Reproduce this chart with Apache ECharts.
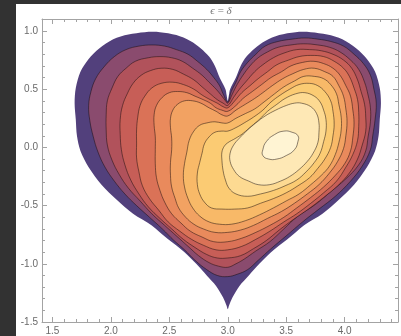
<!DOCTYPE html>
<html><head><meta charset="utf-8">
<script src="https://cdn.jsdelivr.net/npm/echarts@6/dist/echarts.min.js"></script>
<style>
html,body{margin:0;padding:0;background:#323232;width:401px;height:336px;overflow:hidden}
#c{position:absolute;left:16px;top:4px;width:385px;height:332px;background:#fff}
</style></head><body><div id="c"></div>
<script>
// Contour polygons, in data coordinates [x, y]
const heartEdge = [[3.00,0.40],[3.01,0.45],[3.02,0.50],[3.07,0.60],[3.11,0.70],[3.16,0.78],[3.23,0.85],[3.32,0.915],[3.44,0.965],[3.58,0.99],[3.71,0.99],[3.85,0.97],[3.98,0.93],[4.10,0.85],[4.19,0.76],[4.26,0.65],[4.30,0.51],[4.31,0.38],[4.30,0.24],[4.29,0.10],[4.26,-0.03],[4.19,-0.17],[4.08,-0.32],[3.95,-0.45],[3.81,-0.57],[3.65,-0.67],[3.51,-0.79],[3.37,-0.90],[3.27,-1.00],[3.18,-1.10],[3.10,-1.19],[3.04,-1.29],[3.01,-1.36],[3.00,-1.39],[2.99,-1.36],[2.96,-1.29],[2.90,-1.19],[2.82,-1.10],[2.73,-1.00],[2.63,-0.90],[2.49,-0.79],[2.35,-0.67],[2.19,-0.57],[2.05,-0.45],[1.92,-0.32],[1.81,-0.17],[1.74,-0.03],[1.71,0.10],[1.70,0.24],[1.69,0.38],[1.70,0.51],[1.74,0.65],[1.81,0.76],[1.90,0.85],[2.02,0.93],[2.15,0.97],[2.29,0.99],[2.42,0.99],[2.56,0.965],[2.68,0.915],[2.77,0.85],[2.84,0.78],[2.89,0.70],[2.93,0.60],[2.98,0.50],[2.99,0.45]];
const level1 = [[3.00,0.39],[3.03,0.48],[3.07,0.56],[3.11,0.65],[3.17,0.73],[3.24,0.80],[3.32,0.87],[3.43,0.91],[3.55,0.93],[3.66,0.94],[3.77,0.93],[3.88,0.91],[3.99,0.87],[4.08,0.80],[4.16,0.72],[4.22,0.62],[4.25,0.50],[4.27,0.38],[4.26,0.24],[4.24,0.10],[4.22,-0.02],[4.15,-0.16],[4.05,-0.29],[3.92,-0.42],[3.78,-0.53],[3.64,-0.64],[3.50,-0.76],[3.37,-0.87],[3.26,-0.97],[3.17,-1.05],[3.08,-1.09],[3.00,-1.11],[2.91,-1.10],[2.82,-1.05],[2.72,-0.97],[2.63,-0.88],[2.54,-0.80],[2.44,-0.70],[2.33,-0.60],[2.22,-0.50],[2.12,-0.40],[2.03,-0.29],[1.95,-0.17],[1.89,-0.04],[1.85,0.09],[1.82,0.23],[1.81,0.36],[1.83,0.48],[1.87,0.59],[1.94,0.69],[2.03,0.78],[2.13,0.84],[2.24,0.87],[2.35,0.88],[2.46,0.87],[2.56,0.84],[2.66,0.80],[2.74,0.74],[2.82,0.67],[2.88,0.60],[2.93,0.53],[2.96,0.46]];
const level2 = [[3.00,0.38],[3.04,0.46],[3.08,0.54],[3.13,0.62],[3.19,0.70],[3.26,0.77],[3.34,0.82],[3.43,0.86],[3.54,0.88],[3.65,0.89],[3.77,0.88],[3.87,0.86],[3.96,0.82],[4.05,0.75],[4.12,0.67],[4.17,0.56],[4.20,0.45],[4.22,0.34],[4.22,0.22],[4.20,0.09],[4.18,-0.03],[4.12,-0.15],[4.01,-0.27],[3.88,-0.38],[3.75,-0.49],[3.60,-0.59],[3.48,-0.70],[3.36,-0.81],[3.24,-0.89],[3.14,-0.96],[3.07,-1.00],[3.00,-1.03],[2.92,-1.02],[2.84,-0.99],[2.75,-0.93],[2.66,-0.85],[2.56,-0.76],[2.46,-0.67],[2.35,-0.57],[2.25,-0.46],[2.15,-0.35],[2.07,-0.23],[2.01,-0.11],[1.97,0.02],[1.96,0.15],[1.96,0.28],[1.97,0.40],[2.01,0.51],[2.06,0.61],[2.13,0.68],[2.21,0.74],[2.32,0.77],[2.42,0.78],[2.52,0.77],[2.61,0.74],[2.70,0.68],[2.78,0.62],[2.84,0.56],[2.90,0.50],[2.95,0.44],[2.98,0.40]];
const level3 = [[3.00,0.36],[3.05,0.43],[3.10,0.50],[3.16,0.57],[3.23,0.65],[3.30,0.71],[3.39,0.77],[3.48,0.81],[3.59,0.84],[3.70,0.84],[3.80,0.83],[3.90,0.80],[3.99,0.75],[4.06,0.68],[4.11,0.58],[4.14,0.48],[4.17,0.37],[4.18,0.26],[4.18,0.14],[4.15,0.02],[4.11,-0.10],[4.04,-0.22],[3.94,-0.33],[3.82,-0.43],[3.69,-0.53],[3.56,-0.62],[3.44,-0.71],[3.33,-0.80],[3.22,-0.87],[3.11,-0.93],[3.00,-0.95],[2.91,-0.95],[2.82,-0.92],[2.72,-0.86],[2.62,-0.79],[2.52,-0.70],[2.42,-0.61],[2.32,-0.51],[2.24,-0.40],[2.17,-0.28],[2.12,-0.15],[2.09,-0.02],[2.08,0.11],[2.08,0.24],[2.10,0.36],[2.14,0.46],[2.19,0.55],[2.26,0.62],[2.34,0.66],[2.43,0.68],[2.53,0.67],[2.62,0.63],[2.71,0.58],[2.78,0.52],[2.85,0.46],[2.91,0.41],[2.96,0.38]];
const level4 = [[3.00,0.34],[3.06,0.40],[3.12,0.47],[3.19,0.53],[3.26,0.59],[3.34,0.65],[3.42,0.71],[3.52,0.75],[3.61,0.78],[3.71,0.79],[3.82,0.78],[3.91,0.74],[3.99,0.68],[4.04,0.61],[4.08,0.51],[4.11,0.41],[4.12,0.30],[4.12,0.18],[4.11,0.06],[4.07,-0.06],[4.01,-0.17],[3.93,-0.29],[3.82,-0.39],[3.71,-0.48],[3.59,-0.57],[3.48,-0.64],[3.36,-0.72],[3.24,-0.79],[3.12,-0.85],[3.00,-0.88],[2.90,-0.88],[2.79,-0.84],[2.69,-0.79],[2.59,-0.72],[2.49,-0.64],[2.41,-0.54],[2.33,-0.44],[2.27,-0.33],[2.24,-0.21],[2.22,-0.09],[2.22,0.03],[2.22,0.15],[2.23,0.26],[2.25,0.36],[2.29,0.44],[2.35,0.51],[2.43,0.55],[2.53,0.56],[2.62,0.54],[2.71,0.50],[2.78,0.45],[2.85,0.41],[2.91,0.38],[2.96,0.35]];
const level5 = [[3.00,0.31],[3.07,0.36],[3.13,0.42],[3.21,0.48],[3.29,0.54],[3.37,0.60],[3.46,0.65],[3.54,0.70],[3.64,0.73],[3.73,0.74],[3.82,0.72],[3.90,0.68],[3.96,0.62],[4.01,0.53],[4.05,0.44],[4.07,0.32],[4.08,0.21],[4.07,0.09],[4.05,-0.03],[4.00,-0.14],[3.92,-0.24],[3.82,-0.34],[3.71,-0.43],[3.59,-0.52],[3.48,-0.60],[3.36,-0.67],[3.24,-0.73],[3.12,-0.78],[3.00,-0.81],[2.88,-0.81],[2.78,-0.77],[2.68,-0.72],[2.60,-0.65],[2.52,-0.57],[2.46,-0.47],[2.42,-0.37],[2.39,-0.26],[2.38,-0.14],[2.38,-0.02],[2.38,0.09],[2.37,0.19],[2.37,0.28],[2.39,0.36],[2.44,0.43],[2.50,0.47],[2.57,0.48],[2.65,0.47],[2.72,0.44],[2.79,0.41],[2.85,0.38],[2.90,0.34],[2.95,0.32]];
const level6 = [[3.00,0.27],[3.07,0.32],[3.15,0.37],[3.23,0.42],[3.30,0.47],[3.38,0.53],[3.47,0.59],[3.55,0.63],[3.65,0.67],[3.74,0.68],[3.83,0.65],[3.90,0.61],[3.95,0.53],[3.99,0.44],[4.01,0.33],[4.02,0.22],[4.01,0.10],[3.99,-0.01],[3.94,-0.12],[3.87,-0.22],[3.78,-0.32],[3.68,-0.40],[3.57,-0.48],[3.46,-0.55],[3.34,-0.61],[3.22,-0.67],[3.11,-0.71],[3.00,-0.73],[2.89,-0.73],[2.79,-0.70],[2.71,-0.66],[2.64,-0.60],[2.58,-0.52],[2.55,-0.44],[2.52,-0.34],[2.51,-0.24],[2.51,-0.13],[2.52,-0.02],[2.52,0.08],[2.51,0.17],[2.51,0.25],[2.53,0.32],[2.57,0.37],[2.63,0.40],[2.70,0.40],[2.77,0.38],[2.84,0.34],[2.90,0.31],[2.95,0.28]];
const level7 = [[3.00,0.21],[3.07,0.25],[3.15,0.29],[3.23,0.33],[3.31,0.39],[3.40,0.46],[3.48,0.52],[3.57,0.57],[3.65,0.61],[3.74,0.61],[3.82,0.59],[3.88,0.54],[3.93,0.46],[3.95,0.37],[3.97,0.26],[3.97,0.15],[3.95,0.04],[3.92,-0.06],[3.87,-0.16],[3.80,-0.24],[3.71,-0.32],[3.61,-0.40],[3.50,-0.46],[3.39,-0.52],[3.27,-0.58],[3.15,-0.63],[3.03,-0.66],[2.93,-0.66],[2.84,-0.64],[2.76,-0.59],[2.70,-0.52],[2.66,-0.44],[2.63,-0.34],[2.62,-0.24],[2.63,-0.14],[2.65,-0.04],[2.67,0.06],[2.71,0.14],[2.76,0.19],[2.82,0.21],[2.89,0.22],[2.95,0.21]];
const level8 = [[3.00,0.14],[3.07,0.17],[3.14,0.21],[3.22,0.26],[3.30,0.32],[3.37,0.39],[3.45,0.45],[3.53,0.50],[3.61,0.54],[3.70,0.55],[3.77,0.53],[3.83,0.48],[3.88,0.40],[3.90,0.31],[3.91,0.20],[3.90,0.10],[3.88,0.00],[3.83,-0.10],[3.77,-0.18],[3.70,-0.26],[3.60,-0.33],[3.50,-0.39],[3.39,-0.44],[3.28,-0.48],[3.17,-0.52],[3.06,-0.53],[2.95,-0.53],[2.86,-0.52],[2.80,-0.47],[2.76,-0.40],[2.74,-0.32],[2.74,-0.22],[2.76,-0.13],[2.78,-0.05],[2.80,0.03],[2.84,0.09],[2.89,0.13],[2.95,0.14]];
const level9 = [[3.00,0.04],[3.07,0.08],[3.13,0.12],[3.20,0.18],[3.27,0.24],[3.34,0.31],[3.42,0.37],[3.49,0.42],[3.58,0.46],[3.66,0.47],[3.74,0.44],[3.79,0.39],[3.82,0.32],[3.84,0.24],[3.84,0.14],[3.82,0.05],[3.79,-0.05],[3.74,-0.13],[3.67,-0.21],[3.59,-0.28],[3.49,-0.33],[3.39,-0.37],[3.28,-0.40],[3.17,-0.42],[3.07,-0.40],[3.01,-0.35],[2.98,-0.28],[2.96,-0.20],[2.95,-0.11],[2.95,-0.04],[2.97,0.01]];
const level10 = [[3.63,0.38],[3.71,0.35],[3.76,0.29],[3.78,0.21],[3.78,0.13],[3.77,0.04],[3.73,-0.05],[3.68,-0.12],[3.61,-0.19],[3.53,-0.25],[3.45,-0.29],[3.36,-0.32],[3.26,-0.32],[3.18,-0.29],[3.10,-0.25],[3.05,-0.19],[3.02,-0.12],[3.02,-0.05],[3.05,0.02],[3.10,0.08],[3.17,0.15],[3.24,0.21],[3.32,0.27],[3.41,0.32],[3.50,0.36],[3.57,0.38]];
const level11 = [[3.60,0.10],[3.60,0.05],[3.57,-0.02],[3.50,-0.07],[3.42,-0.10],[3.35,-0.10],[3.30,-0.07],[3.30,-0.02],[3.33,0.05],[3.40,0.11],[3.48,0.14],[3.55,0.13]];

const bandColors = ['#52407c','#8a4b6e','#b1525b','#c75e57','#da7257','#e98a5c','#f2a262','#f8b968','#fbcb73','#fdda92','#fee8b5','#fff4d3'];
const xRange = [1.411, 4.456];
const yRange = [-1.5, 1.103];
const titleText = 'ϵ\u2009=\u2009δ';

const contours = [heartEdge, level1, level2, level3, level4, level5, level6, level7, level8, level9, level10, level11];
const frameColor = '#a3a3a3';
const labelColor = '#6a6a6a';
const fmt = v => Math.abs(v * 2 - Math.round(v * 2)) < 1e-6 ? v.toFixed(1) : '';

function axis(pos, range, showLabel) {
  return {
    type: 'value', position: pos, min: range[0], max: range[1], scale: true,
    axisLine: { show: true, onZero: false, lineStyle: { color: frameColor, width: 1 } },
    axisTick: { show: true, inside: true, length: 5, lineStyle: { color: frameColor } },
    minorTick: { show: true, splitNumber: 5, length: 3, lineStyle: { color: frameColor } },
    splitLine: { show: false },
    axisLabel: { show: showLabel, formatter: fmt, color: labelColor, fontSize: 10,
                 fontFamily: 'Liberation Sans, Arial, sans-serif', margin: 4 }
  };
}

const chart = echarts.init(document.getElementById('c'), null, { renderer: 'canvas' });
chart.setOption({
  animation: false,
  backgroundColor: '#ffffff',
  grid: { left: 26, right: 2, top: 15, bottom: 13, containLabel: false },
  xAxis: [axis('bottom', xRange, true), axis('top', xRange, false)],
  yAxis: [axis('left', yRange, true), axis('right', yRange, false)],
  graphic: [{
    type: 'text', x: 205, y: 7,
    style: { text: titleText, fill: '#777', font: 'italic 11px "Liberation Serif", serif',
             textAlign: 'center', textVerticalAlign: 'middle' }
  }],
  series: [{
    type: 'custom',
    coordinateSystem: 'cartesian2d',
    xAxisIndex: 0, yAxisIndex: 0,
    data: contours.map((c, i) => [c[0][0], c[0][1], i]),
    renderItem: function (params, api) {
      const i = params.dataIndex;
      const pts = contours[i].map(p => api.coord(p));
      return {
        type: 'polygon',
        shape: { points: pts, smooth: i === 0 ? 0.3 : (i === 11 ? 0.5 : 0.4) },
        style: {
          fill: bandColors[i],
          stroke: i === 0 ? null : 'rgba(20,10,10,0.55)',
          lineWidth: i === 0 ? 0 : 0.9
        },
        silent: true
      };
    }
  }]
});
</script></body></html>
